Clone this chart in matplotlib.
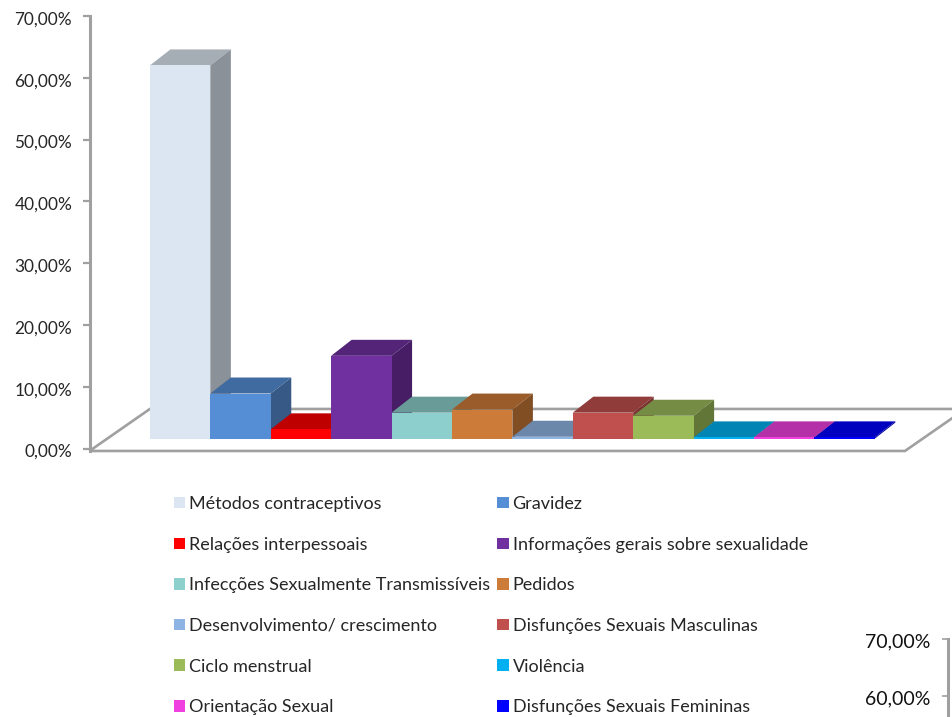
import matplotlib
matplotlib.use("Agg")
import matplotlib.pyplot as plt
from matplotlib.patches import Patch, Polygon
from matplotlib.colors import to_rgb
from matplotlib.transforms import ScaledTranslation

# categorias e valores (%)
categorias = ["Métodos contraceptivos", "Gravidez", "Relações interpessoais",
              "Informações gerais sobre sexualidade",
              "Infecções Sexualmente Transmissíveis", "Pedidos",
              "Desenvolvimento/ crescimento", "Disfunções Sexuais Masculinas",
              "Ciclo menstrual", "Violência", "Orientação Sexual",
              "Disfunções Sexuais Femininas"]
valores = [60.4, 7.3, 1.5, 13.4, 4.2, 4.7, 0.3, 4.2, 3.7, 0.2, 0.2, 0.2]
cores = ["#DCE6F2", "#558ED5", "#FF0000", "#7030A0", "#8CCFCC", "#CC7B38",
         "#8EB4E3", "#C0504D", "#9BBB59", "#00B0F0", "#F040E0", "#0000FF"]
ticks_y = [0, 10, 20, 30, 40, 50, 60, 70]
ticks_resto = [60, 70]

W, H = 952, 717
CINZA = "#A0A0A0"
FONTE = ["Lato", "DejaVu Sans"]
plt.rcParams["font.family"] = FONTE


def fmt(v):
    return f"{v:.2f}".replace(".", ",") + "%"


def sombra(cor, f):
    return tuple(c * f for c in to_rgb(cor))


def desce_rotulos(eixo, px):
    # os rotulos ficam um pouco abaixo das marcas no original
    for r in eixo.get_yticklabels():
        r.set_transform(r.get_transform() + ScaledTranslation(0, -px / 100, fig.dpi_scale_trans))


fig = plt.figure(figsize=(W / 100, H / 100), dpi=100)
ax = fig.add_axes([89.5 / W, 1 - 448.5 / H, (905 - 89.5) / W, (448.5 - 16) / H])
ax.set_xlim(-1.5, 12)
ax.set_ylim(0, 70)
ax.patch.set_visible(False)

for lado in ["top", "right", "bottom"]:
    ax.spines[lado].set_visible(False)
ax.spines["left"].set_color(CINZA)
ax.spines["left"].set_linewidth(2.2)
ax.spines["left"].set_bounds(-0.4, 70)
ax.spines["left"].set_clip_on(False)

ax.set_xticks([])
ax.set_yticks(ticks_y)
ax.set_yticklabels([fmt(v) for v in ticks_y], fontsize=12.4, color="#262626")
ax.tick_params(axis="y", length=5, width=1.6, color=CINZA, pad=7.5)
desce_rotulos(ax, 2)

# chao em perspectiva
chao = [(-1.5, -0.4), (-0.5, 6.4), (13.0, 6.4), (12, -0.4)]
ax.add_patch(Polygon(chao, closed=True, facecolor="white", edgecolor=CINZA,
                     linewidth=1.9, zorder=1, clip_on=False))

# barras "3D": topo e lateral desenhados a partir do valor
base = 1.6
dx, dy = 0.34, 2.59
for i, (v, c) in enumerate(zip(valores, cores)):
    e, d = i - 0.5, i + 0.5
    t = base + v
    ax.add_patch(Polygon([(e, t), (e + dx, t + dy), (d + dx, t + dy), (d, t)],
                         facecolor=sombra(c, 0.75), edgecolor="none",
                         zorder=2 + i, clip_on=False))
    ax.add_patch(Polygon([(d, base), (d + dx, base + dy), (d + dx, t + dy), (d, t)],
                         facecolor=sombra(c, 0.63), edgecolor="none",
                         zorder=2 + i, clip_on=False))
    ax.bar(i, v, width=1.0, bottom=base, color=c, zorder=2 + i, clip_on=False)

# legenda em duas colunas (preenche por coluna)
ordem = list(range(0, 12, 2)) + list(range(1, 12, 2))
handles = [Patch(facecolor=cores[i], edgecolor="none") for i in ordem]
labels = [categorias[i] for i in ordem]
fig.legend(handles, labels, ncol=2, frameon=False, fontsize=13,
           loc="upper left", bbox_to_anchor=(173.5 / W, 1 - 496 / H),
           borderaxespad=0, borderpad=0, handlelength=0.64, handleheight=0.6,
           handletextpad=0.2, labelspacing=1.365, columnspacing=0.42,
           labelcolor="#262626")

# pedaco de outro grafico cortado no canto inferior direito
ax2 = fig.add_axes([948 / W, 0, 3 / W, (717 - 638.7) / H])
ax2.set_ylim(56.35, 70)
ax2.set_xticks([])
ax2.patch.set_visible(False)
for lado in ["top", "right", "bottom"]:
    ax2.spines[lado].set_visible(False)
ax2.spines["left"].set_color(CINZA)
ax2.spines["left"].set_linewidth(2.2)
ax2.set_yticks(ticks_resto)
ax2.set_yticklabels([fmt(v) for v in ticks_resto], fontsize=14, color="#111111")
ax2.tick_params(axis="y", length=4, width=1.2, color=CINZA, pad=9)
desce_rotulos(ax2, 1.5)

fig.savefig("out.png", dpi=100, facecolor="white")
